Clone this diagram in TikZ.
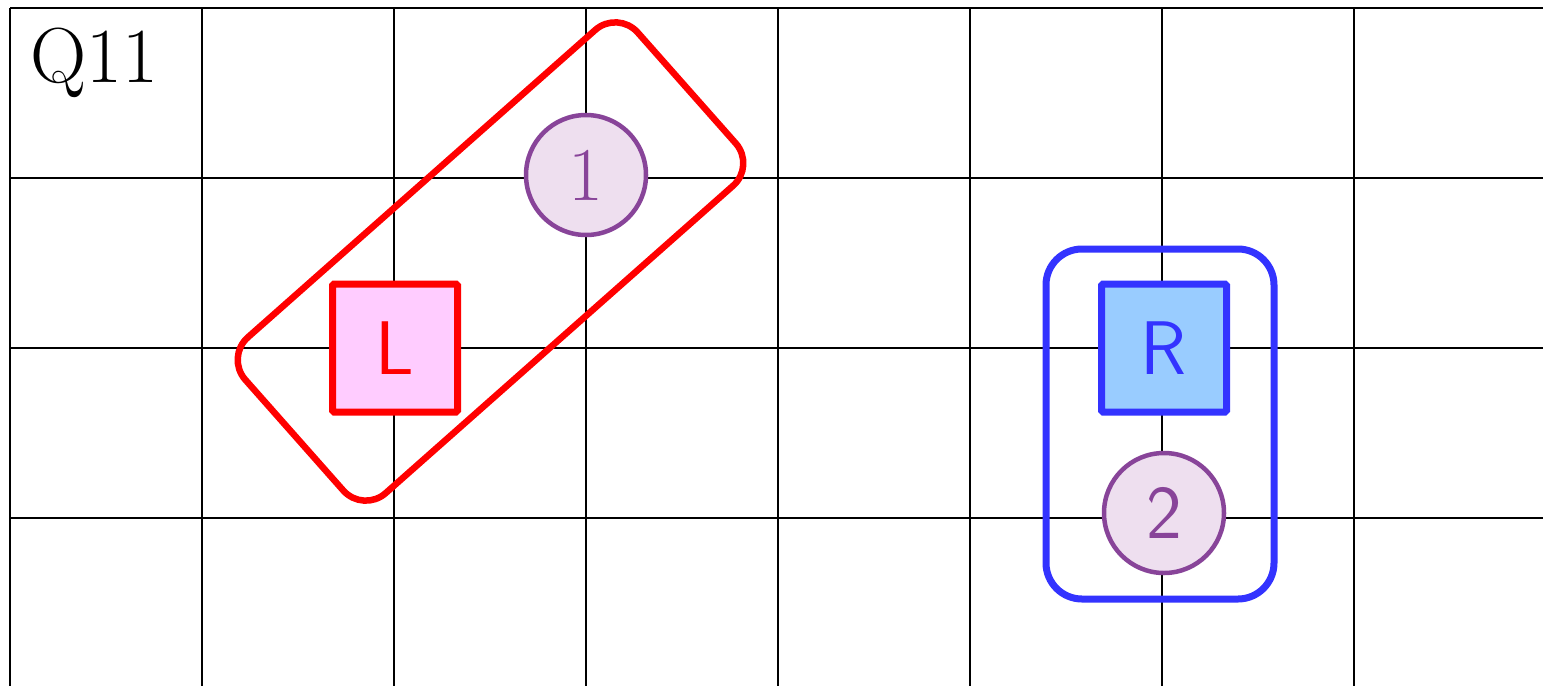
\documentclass[tikz,border=0pt]{standalone}
\usepackage{fontspec}
\usetikzlibrary{calc}
\definecolor{gridblack}{HTML}{000000}
\definecolor{lred}{HTML}{FF0000}
\definecolor{lpink}{HTML}{FFCCFF}
\definecolor{rblue}{HTML}{3333FF}
\definecolor{rlight}{HTML}{99CCFF}
\definecolor{cpurple}{HTML}{884499}
\definecolor{cfill}{HTML}{EEDFEF}
\tikzset{
  gridline/.style={line width=2pt, gridblack},
  sqbox/.style={rectangle, rounded corners=1.5pt, line width=7pt, minimum width=125pt, minimum height=128pt, inner sep=0pt, font=\fontsize{76}{80}\selectfont\sffamily},
  numcirc/.style={circle, draw=cpurple, fill=cfill, line width=4.5pt, minimum size=120pt, inner sep=0pt, text=cpurple, font=\fontsize{76}{80}\selectfont},
  groupbox/.style={rectangle, line width=6.5pt, inner sep=0pt},
}
\begin{document}
\begin{tikzpicture}[x=1pt, y=-1pt]
\useasboundingbox (0,0) rectangle (1543,686);
% grid
\foreach \i in {0,...,7} {
  \draw[gridline] (10+192*\i, 8) -- (10+192*\i, 686);
}
\foreach \j in {0,...,3} {
  \draw[gridline] (10, 8+170*\j) -- (1543, 8+170*\j);
}
% title
\node[anchor=base west, inner sep=0pt, font=\fontsize{78}{82}\selectfont] (title) at (30,82) {Q11};
% elements
\node[sqbox, draw=lred, fill=lpink, text=lred] (L) at (395,348) {L};
\node[sqbox, draw=rblue, fill=rlight, text=rblue] (R) at (1164,348) {R};
\node[numcirc] (c1) at (586,175) {1};
\node[numcirc, font=\fontsize{76}{80}\selectfont\sffamily] (c2) at (1164,513) {2};
% groups
\node[groupbox, draw=lred, rounded corners=30pt, minimum width=524pt, minimum height=208pt, rotate=41.5] (gL) at ($(L)!0.5!(c1)$) {};
\node[groupbox, draw=rblue, rounded corners=36pt, minimum width=228pt, minimum height=350pt, line width=7pt] (gR) at (1160,424) {};
\end{tikzpicture}
\end{document}
